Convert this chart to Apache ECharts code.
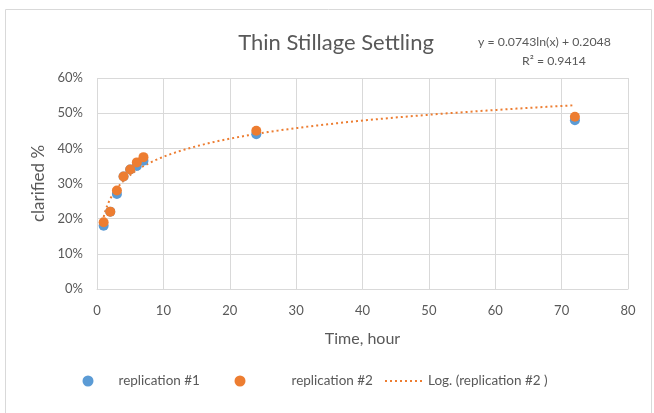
<!DOCTYPE html>
<html><head><meta charset="utf-8">
<script src="https://cdn.jsdelivr.net/npm/echarts@6/dist/echarts.min.js"></script>
<style>html,body{margin:0;padding:0;background:#fff}#c{width:654px;height:413px}</style>
</head><body><div id="c"></div>
<script>
var hours = [1, 2, 3, 4, 5, 6, 7, 24, 72];
var rep1 = [0.18, 0.22, 0.27, 0.32, 0.34, 0.35, 0.365, 0.44, 0.48];
var rep2 = [0.19, 0.22, 0.28, 0.32, 0.34, 0.36, 0.375, 0.45, 0.49];
var fitA = 0.0743, fitB = 0.2048; // from chart: y = 0.0743ln(x) + 0.2048
var xTicks = [0, 10, 20, 30, 40, 50, 60, 70, 80];
var yTicks = [0, 0.1, 0.2, 0.3, 0.4, 0.5, 0.6];

var F = 'Lato, "Open Sans", sans-serif';
var gray = '#595959';
var trend = [];
for (var x = 1; x <= 72; x += 0.25) trend.push([x, fitA * Math.log(x) + fitB]);

var chart = echarts.init(document.getElementById('c'));
chart.setOption({
  animation: false,
  grid: {left: 97, right: 26, top: 78, bottom: 124},
  title: {text: 'Thin Stillage Settling', left: 331, top: 27, textAlign: 'center',
    textStyle: {fontFamily: F, fontSize: 22, fontWeight: 'normal', color: gray}},
  graphic: [
    {type: 'rect', shape: {x: 5.5, y: 9.5, width: 646, height: 420},
      style: {fill: 'none', stroke: '#D9D9D9', lineWidth: 1}, silent: true},
    {type: 'text', left: 478, top: 36, style: {text: 'y = 0.0743ln(x) + 0.2048', font: '12.3px ' + F, fill: gray}},
    {type: 'text', left: 522, top: 55, style: {text: 'R² = 0.9414', font: '12.3px ' + F, fill: gray}}
  ],
  legend: [
    {data: ['replication #1'], left: 82.5, top: 374, padding: 0, itemWidth: 11, itemHeight: 11, icon: 'circle',
      textStyle: {fontFamily: F, fontSize: 13.5, color: gray, padding: [0, 0, 0, 20]}},
    {data: ['replication #2'], left: 234.5, top: 374, padding: 0, itemWidth: 11, itemHeight: 11, icon: 'circle',
      textStyle: {fontFamily: F, fontSize: 13.5, color: gray, padding: [0, 0, 0, 41]}},
    {data: ['Log. (replication #2 )'], left: 384, top: 374, padding: 0, itemWidth: 40, itemHeight: 11,
      itemStyle: {opacity: 0},
      textStyle: {fontFamily: F, fontSize: 13.5, color: gray, padding: [0, 0, 0, -2]}}
  ],
  xAxis: {type: 'value', min: 0, max: 80, interval: 10,
    name: 'Time, hour', nameLocation: 'middle', nameGap: 42,
    nameTextStyle: {fontFamily: F, fontSize: 16, color: gray},
    axisLine: {show: true, lineStyle: {color: '#D9D9D9'}}, axisTick: {show: false},
    axisLabel: {fontFamily: F, fontSize: 13, color: gray, margin: 15},
    splitLine: {show: true, lineStyle: {color: '#D9D9D9'}}},
  yAxis: {type: 'value', min: 0, max: 0.6, interval: 0.1,
    name: 'clarified %', nameLocation: 'middle', nameGap: 50,
    nameTextStyle: {fontFamily: F, fontSize: 17, color: gray},
    axisLine: {show: false}, axisTick: {show: false},
    axisLabel: {fontFamily: F, fontSize: 13, color: gray, margin: 14,
      formatter: function (v) { return Math.round(v * 100) + '%'; }},
    splitLine: {show: true, lineStyle: {color: '#D9D9D9'}}},
  series: [
    {name: 'replication #1', type: 'scatter', symbolSize: 10, itemStyle: {color: '#5B9BD5', opacity: 1},
      data: hours.map(function (h, i) { return [h, rep1[i]]; }), z: 3},
    {name: 'replication #2', type: 'scatter', symbolSize: 10, itemStyle: {color: '#ED7D31', opacity: 1},
      data: hours.map(function (h, i) { return [h, rep2[i]]; }), z: 4},
    {name: 'Log. (replication #2 )', type: 'line', showSymbol: false, symbol: 'none', smooth: false,
      lineStyle: {color: '#ED7D31', width: 2, type: [2, 3]}, itemStyle: {color: '#ED7D31'},
      data: trend, z: 2}
  ]
});
</script></body></html>
